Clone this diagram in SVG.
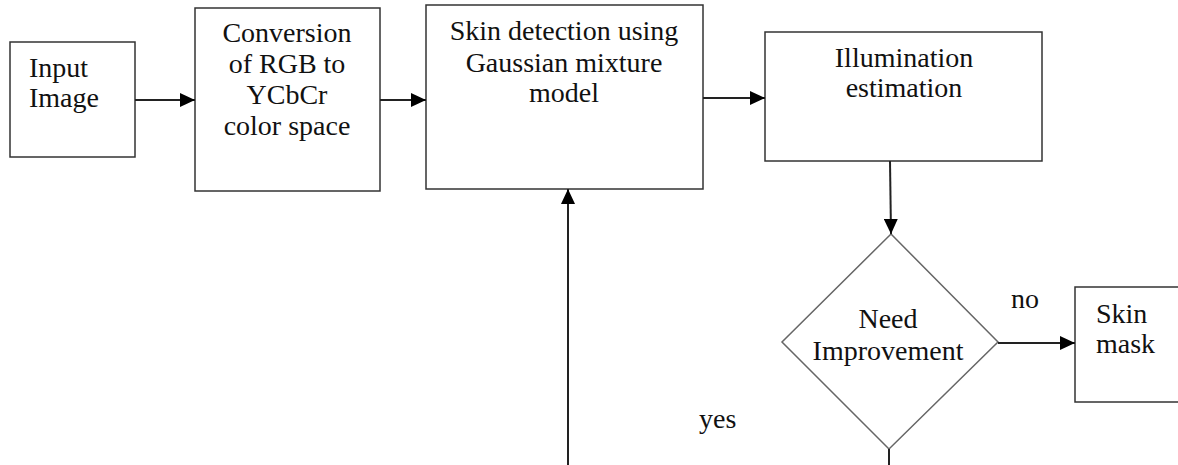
<svg xmlns="http://www.w3.org/2000/svg" width="1178" height="465" viewBox="0 0 1178 465" font-family="'Liberation Serif', 'DejaVu Serif', serif">
  <style>
    .box { fill: #ffffff; stroke: #333333; stroke-width: 1.5; }
    .decision { fill: #ffffff; stroke: #666666; stroke-width: 1.5; }
    .edge { fill: none; stroke: #222222; stroke-width: 2; }
    text { font-size: 28px; fill: #111111; }
    .mid { text-anchor: middle; }
  </style>
  <defs>
    <marker id="arrow" viewBox="0 0 15 14" refX="15" refY="7" markerWidth="15" markerHeight="14" markerUnits="userSpaceOnUse" orient="auto">
      <path d="M0,0 L15,7 L0,14 Z" fill="#000000"/>
    </marker>
  </defs>
  <rect width="1178" height="465" fill="#ffffff"/>

  <g id="input-image">
    <rect class="box" x="10" y="42" width="125" height="115"/>
    <text x="29" y="77">Input</text>
    <text x="29" y="107">Image</text>
  </g>

  <g id="rgb-to-ycbcr">
    <rect class="box" x="195" y="8" width="185" height="183"/>
    <text class="mid" x="287" y="42">Conversion</text>
    <text class="mid" x="287" y="73">of RGB to</text>
    <text class="mid" x="287" y="104">YCbCr</text>
    <text class="mid" x="287" y="135">color space</text>
  </g>

  <g id="skin-detection">
    <rect class="box" x="426" y="5" width="277" height="184"/>
    <text class="mid" x="564" y="40">Skin detection using</text>
    <text class="mid" x="564" y="72">Gaussian mixture</text>
    <text class="mid" x="564" y="102">model</text>
  </g>

  <g id="illumination-estimation">
    <rect class="box" x="765" y="32" width="277" height="129"/>
    <text class="mid" x="904" y="67">Illumination</text>
    <text class="mid" x="904" y="97">estimation</text>
  </g>

  <g id="need-improvement">
    <polygon class="decision" points="891,234 998,342 889,449 782,342"/>
    <text class="mid" x="888" y="328">Need</text>
    <text class="mid" x="888" y="360">Improvement</text>
  </g>

  <g id="skin-mask">
    <rect class="box" x="1075" y="287" width="110" height="115"/>
    <text x="1096" y="323">Skin</text>
    <text x="1096" y="353">mask</text>
  </g>

  <g id="connectors">
    <line class="edge" x1="135" y1="100" x2="195" y2="100" marker-end="url(#arrow)"/>
    <line class="edge" x1="380" y1="100" x2="426" y2="100" marker-end="url(#arrow)"/>
    <line class="edge" x1="703" y1="98" x2="765" y2="98" marker-end="url(#arrow)"/>
    <line class="edge" x1="890" y1="161" x2="891" y2="234" marker-end="url(#arrow)"/>
    <line class="edge" x1="998" y1="343" x2="1075" y2="343" marker-end="url(#arrow)"/>
    <line class="edge" x1="889" y1="449" x2="889" y2="466"/>
    <line class="edge" x1="568" y1="466" x2="568" y2="189" marker-end="url(#arrow)"/>
    <text x="1011" y="308">no</text>
    <text x="699" y="428">yes</text>
  </g>
</svg>
